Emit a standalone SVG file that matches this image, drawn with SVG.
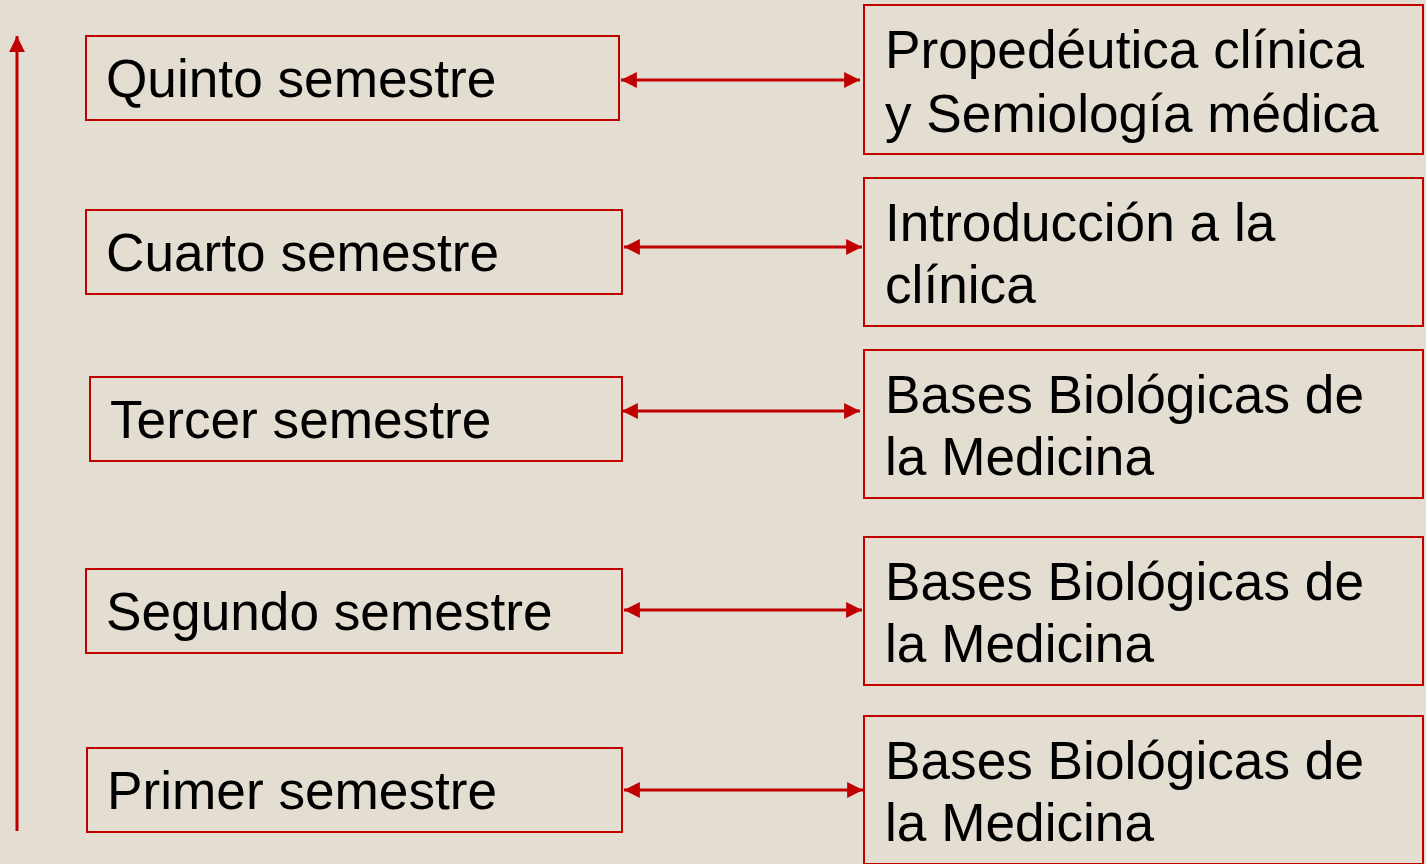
<svg xmlns="http://www.w3.org/2000/svg" width="1426" height="864" viewBox="0 0 1426 864">
<style>
.box{fill:none;stroke:#C00000;stroke-width:2}
.t{font-family:"Liberation Sans",Arial,sans-serif;font-size:53.2px;fill:#000}
.c{stroke:#C00000;stroke-width:3;fill:none}
</style>
<defs>
<marker id="ah" viewBox="0 0 10 10" refX="10" refY="5" markerWidth="5.3" markerHeight="5.3" markerUnits="strokeWidth" orient="auto-start-reverse">
<path d="M0,0 L10,5 L0,10 z" fill="#C00000"/>
</marker>
</defs>
<rect width="1426" height="864" fill="#E3DDD2"/>
<g id="connectors">
<line class="c" x1="17" y1="831" x2="17" y2="36" marker-end="url(#ah)"/>
<line class="c" x1="621" y1="80" x2="860" y2="80" marker-start="url(#ah)" marker-end="url(#ah)"/>
<line class="c" x1="624" y1="247" x2="862" y2="247" marker-start="url(#ah)" marker-end="url(#ah)"/>
<line class="c" x1="622" y1="411" x2="860" y2="411" marker-start="url(#ah)" marker-end="url(#ah)"/>
<line class="c" x1="624" y1="610" x2="862" y2="610" marker-start="url(#ah)" marker-end="url(#ah)"/>
<line class="c" x1="624" y1="790" x2="863" y2="790" marker-start="url(#ah)" marker-end="url(#ah)"/>
</g>
<g id="quinto"><rect class="box" x="86" y="36" width="533" height="84"/><text class="t" x="106" y="97">Quinto semestre</text></g>
<g id="cuarto"><rect class="box" x="86" y="210" width="536" height="84"/><text class="t" x="106" y="271">Cuarto semestre</text></g>
<g id="tercer"><rect class="box" x="90" y="377" width="532" height="84"/><text class="t" x="110" y="438">Tercer semestre</text></g>
<g id="segundo"><rect class="box" x="86" y="569" width="536" height="84"/><text class="t" x="106" y="630">Segundo semestre</text></g>
<g id="primer"><rect class="box" x="87" y="748" width="535" height="84"/><text class="t" x="107" y="809">Primer semestre</text></g>
<g id="propedeutica"><rect class="box" x="864" y="5" width="559" height="149"/><text class="t" x="885" y="68">Propedéutica clínica</text><text class="t" x="885" y="132">y Semiología médica</text></g>
<g id="introduccion"><rect class="box" x="864" y="178" width="559" height="148"/><text class="t" x="885" y="241">Introducción a la</text><text class="t" x="885" y="303">clínica</text></g>
<g id="bases3"><rect class="box" x="864" y="350" width="559" height="148"/><text class="t" x="885" y="413">Bases Biológicas de</text><text class="t" x="885" y="475">la Medicina</text></g>
<g id="bases2"><rect class="box" x="864" y="537" width="559" height="148"/><text class="t" x="885" y="600">Bases Biológicas de</text><text class="t" x="885" y="662">la Medicina</text></g>
<g id="bases1"><rect class="box" x="864" y="716" width="559" height="148"/><text class="t" x="885" y="779">Bases Biológicas de</text><text class="t" x="885" y="841">la Medicina</text></g>
</svg>
